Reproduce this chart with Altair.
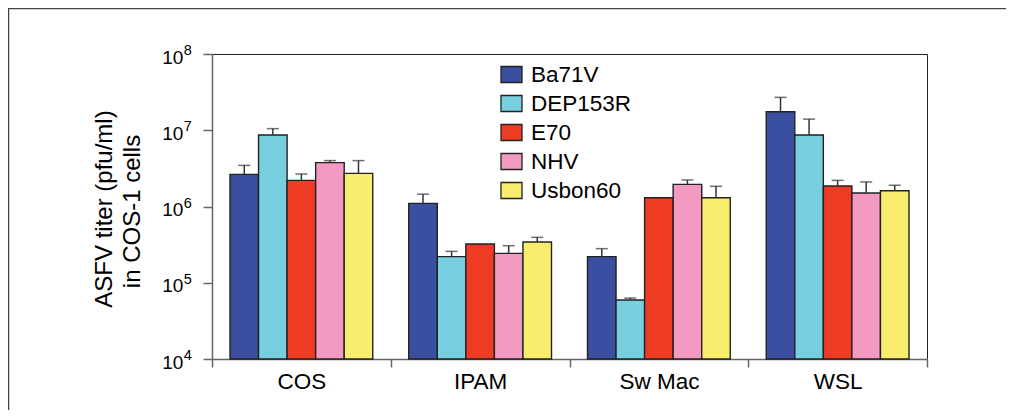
import altair as alt
import pandas as pd

cells = ["COS", "IPAM", "Sw Mac", "WSL"]
series = ["Ba71V", "DEP153R", "E70", "NHV", "Usbon60"]
colors = ["#3a4fa0", "#77cfdf", "#ee3b24", "#f39ac3", "#f8ed6d"]

ba71v = [2.64e6, 1.1e6, 2.2e5, 1.75e7]
ba71v_err = [3.46e6, 1.45e6, 2.8e5, 2.7e7]
dep153r = [8.67e6, 2.2e5, 5.94e4, 8.67e6]
dep153r_err = [1.05e7, 2.58e5, 6.3e4, 1.4e7]
e70 = [2.2e6, 3.22e5, 1.3e6, 1.86e6]
e70_err = [2.67e6, None, None, 2.2e6]
nhv = [3.76e6, 2.43e5, 1.95e6, 1.5e6]
nhv_err = [4.0e6, 3.06e5, 2.23e6, 2.1e6]
usbon60 = [2.72e6, 3.42e5, 1.3e6, 1.61e6]
usbon60_err = [4.0e6, 3.94e5, 1.84e6, 1.9e6]

tick_values = [1e4, 1e5, 1e6, 1e7, 1e8]
tick_exponents = ["4", "5", "6", "7", "8"]
y_title = ["ASFV titer (pfu/ml)", "in COS-1 cells"]
y_min = 1e4

vals = [ba71v, dep153r, e70, nhv, usbon60]
errs = [ba71v_err, dep153r_err, e70_err, nhv_err, usbon60_err]
rows = []
for s, v, e in zip(series, vals, errs):
    for c, vv, ee in zip(cells, v, e):
        rows.append({"cell": c, "series": s, "value": vv, "err": ee, "base": y_min})
df = pd.DataFrame(rows)

W, H = 715, 305
FONT = "Liberation Sans"

yscale = alt.Scale(type="log", domain=[1e4, 1e8], nice=False)
xenc = alt.X("cell:N", sort=cells,
             scale=alt.Scale(domain=cells, paddingInner=0, paddingOuter=0),
             axis=alt.Axis(title=None, labelAngle=0, tickBand="extent", tickSize=8,
                           tickColor="#666", tickWidth=1.5, domainColor="#666",
                           domainWidth=1.5, labelFont=FONT, labelFontSize=22.5,
                           labelColor="#000", labelPadding=3))
xoff = alt.XOffset("series:N", sort=series,
                   scale=alt.Scale(domain=series, paddingInner=0, paddingOuter=0.63))
yaxis = alt.Axis(labels=False, title=None, values=tick_values, tickSize=9,
                 tickColor="#666", tickWidth=1.5, domainColor="#666",
                 domainWidth=1.5, grid=False)

base = alt.Chart(df)

bars = base.mark_bar(stroke="#222", strokeWidth=1.4, strokeOpacity=1).encode(
    x=xenc,
    xOffset=xoff,
    y=alt.Y("value:Q", scale=yscale, axis=yaxis),
    y2="base:Q",
    fill=alt.Fill("series:N", sort=series,
                  scale=alt.Scale(domain=series, range=colors),
                  legend=alt.Legend(title=None, orient="none", legendX=288, legendY=9,
                                    symbolType="M-1,-0.76H1V0.76H-1Z", symbolSize=441,
                                    symbolStrokeColor="#222", symbolStrokeWidth=1.3,
                                    symbolOpacity=1, labelFont=FONT, labelFontSize=22.5,
                                    labelColor="#000", labelOffset=8, rowPadding=6,
                                    padding=0, labelLimit=300)),
)

errdata = base.transform_filter("isValid(datum.err)")
err_rule = errdata.mark_rule(color="#333", strokeWidth=1.5).encode(
    x=xenc, xOffset=xoff,
    y=alt.Y("value:Q", scale=yscale, axis=yaxis), y2="err:Q")
err_cap = errdata.mark_tick(color="#333", thickness=1.5, size=12, orient="horizontal").encode(
    x=xenc, xOffset=xoff,
    y=alt.Y("err:Q", scale=yscale, axis=yaxis))

ticks_df = pd.DataFrame({"v": tick_values, "e": tick_exponents})
tick_base = alt.Chart(ticks_df).mark_text(
    text="10", align="right", baseline="middle", fontSize=19, font=FONT, color="#000", dy=3.5
).encode(x=alt.value(-28.7), y=alt.Y("v:Q", scale=yscale, axis=yaxis))
tick_exp = alt.Chart(ticks_df).mark_text(
    align="left", baseline="middle", fontSize=14.5, font=FONT, color="#000", dy=-3
).encode(x=alt.value(-28.3), y=alt.Y("v:Q", scale=yscale, axis=yaxis), text="e:N")

title_df = pd.DataFrame({"t": y_title, "line": [0, 1]})
line1 = alt.Chart(title_df).transform_filter("datum.line == 0").mark_text(
    angle=270, align="center", baseline="middle", fontSize=24, font=FONT, color="#000"
).encode(x=alt.value(-107), y=alt.value(155), text="t:N")
line2 = alt.Chart(title_df).transform_filter("datum.line == 1").mark_text(
    angle=270, align="center", baseline="middle", fontSize=24, font=FONT, color="#000"
).encode(x=alt.value(-79), y=alt.value(157.5), text="t:N")

one = pd.DataFrame({"a": [0]})
frame_top = alt.Chart(one).mark_rule(color="#444", strokeWidth=1.5).encode(
    x=alt.value(-204), x2=alt.value(800), y=alt.value(-45.5))
frame_left = alt.Chart(one).mark_rule(color="#444", strokeWidth=1.5).encode(
    x=alt.value(-203.5), y=alt.value(-46), y2=alt.value(360))

chart = alt.layer(bars, err_rule, err_cap, tick_base, tick_exp, line1, line2,
                  frame_top, frame_left).properties(
    width=W, height=H,
    autosize=alt.AutoSizeParams(type="none"),
    padding={"left": 204, "top": 46, "right": 79, "bottom": 51},
).configure_view(stroke="#222", strokeWidth=1)

chart.save("out.html", embed_options={"renderer": "svg", "actions": False})
